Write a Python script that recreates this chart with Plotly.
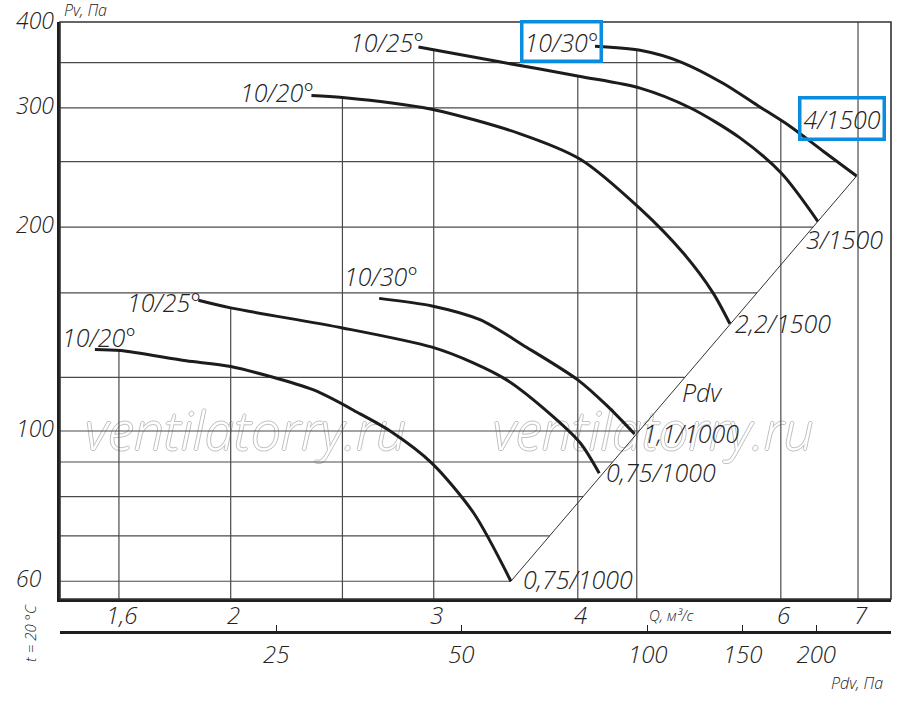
import numpy as np
import plotly.graph_objects as go

# ---- fan curves, Q in m3/s, Pv in Pa ----
# upper group (1500 rpm)
q_20_hi = [2.35, 2.50, 2.98, 3.56, 4.02, 4.53, 4.94, 5.24, 5.42]
p_20_hi = [313, 311, 299, 275, 252, 213, 183, 160, 144]
q_25_hi = [2.91, 3.42, 4.02, 4.53, 5.01, 5.53, 6.01, 6.46]
p_25_hi = [369, 351, 334, 321, 300, 271, 240, 204]
q_30_hi = [4.14, 4.53, 4.91, 5.35, 5.72, 6.11, 6.53, 6.98]
p_30_hi = [370, 365, 351, 326, 303, 282, 259, 238]
# lower group (1000 rpm)
q_20_lo = [1.525, 1.605, 1.83, 2.00, 2.36, 2.59, 2.75, 2.99, 3.25, 3.50]
p_20_lo = [132, 131.5, 127, 124.5, 115, 106, 100, 89.6, 75.6, 60]
q_25_lo = [1.875, 2.00, 2.50, 2.99, 3.25, 3.47, 3.76, 4.02, 4.175]
p_25_lo = [156, 152, 142, 133, 126, 119, 107, 96, 86.6]
q_30_lo = [2.69, 2.99, 3.29, 3.61, 4.00, 4.24, 4.48]
p_30_lo = [157, 153, 146, 133, 119, 109, 99]

angle_labels = ["10/20°", "10/25°", "10/30°", "10/20°", "10/25°", "10/30°"]
motor_labels = ["2,2/1500", "3/1500", "4/1500", "0,75/1000", "0,75/1000", "1,1/1000"]

# axes
q_grid = [1.6, 2, 2.5, 3, 4, 4.5, 6, 7]
p_grid = [60, 70, 80, 90, 100, 120, 160, 200, 250, 300, 350]
q_ticks = [1.6, 2, 3, 4, 6, 7]
q_ticktext = ["1,6", "2", "3", "4", "6", "7"]
p_ticks = [60, 100, 200, 300, 400]
pdv_ticks = [25, 50, 100, 150, 200]
pdv_tick_q = [2.19, 3.17, 4.60, 5.56, 6.44]   # Q where each Pdv tick sits

curves = [(q_20_hi, p_20_hi), (q_25_hi, p_25_hi), (q_30_hi, p_30_hi),
          (q_20_lo, p_20_lo), (q_25_lo, p_25_lo), (q_30_lo, p_30_lo)]

XR = [0.153, 0.8737]
YR = [1.7519, 2.6041]
qmin, qmax = 10 ** XR[0], 10 ** XR[1]
pmin, pmax = 10 ** YR[0], 10 ** YR[1]

# Pdv line joins the curve ends
ends = sorted((c[0][-1], c[1][-1]) for c in curves)
pdv_q = [ends[0][0], ends[-1][0]]
pdv_p = [ends[0][1], ends[-1][1]]
all_lines = curves + [(pdv_q, pdv_p)]

# grid lines stop at the curves
gx, gy = [], []
for q in q_grid:
    tops = []
    for qs, ps in all_lines:
        if qs[0] <= q <= qs[-1]:
            tops.append(10 ** np.interp(np.log10(q), np.log10(qs), np.log10(ps)))
    gx += [q, q, None]
    gy += [pmin, max(tops) if tops else pmax, None]
for p in p_grid:
    rights = []
    for qs, ps in all_lines:
        lo, hi = min(ps), max(ps)
        if lo <= p <= hi:
            if ps[0] > ps[-1]:
                xs, ys = np.log10(qs[::-1]), np.log10(ps[::-1])
            else:
                xs, ys = np.log10(qs), np.log10(ps)
            rights.append(10 ** np.interp(np.log10(p), ys, xs))
    gx += [qmin, max(rights) if rights else qmax, None]
    gy += [p, p, None]

FONT = "Open Sans"
TXT = "#222222"

fig = go.Figure()

# watermark
fig.add_trace(go.Scatter(
    x=[2.06, 4.65], y=[98, 98], mode="text",
    text=["ventilatorry.ru", "ventilatorry.ru"],
    textfont=dict(family=FONT, size=53, style="italic", weight=300, color="white",
                  shadow="1px 0 #c0c0c0, -1px 0 #c0c0c0, 0 1px #c0c0c0, 0 -1px #c0c0c0"),
    hoverinfo="skip", showlegend=False))

fig.add_trace(go.Scatter(x=gx, y=gy, mode="lines",
                         line=dict(color="#4a4a4a", width=1.2),
                         hoverinfo="skip", showlegend=False))

fig.add_trace(go.Scatter(x=pdv_q, y=pdv_p, mode="lines",
                         line=dict(color="#333333", width=1),
                         hoverinfo="skip", showlegend=False))

for qs, ps in curves:
    fig.add_trace(go.Scatter(x=qs, y=ps, mode="lines",
                             line=dict(color="#1c1c1c", width=3, shape="spline", smoothing=0.8),
                             showlegend=False))

# dummy trace so the Pdv axis is drawn
fig.add_trace(go.Scatter(x=pdv_tick_q, y=pdv_ticks, xaxis="x2", mode="markers",
                         marker=dict(opacity=0), hoverinfo="skip", showlegend=False))

lab_font = dict(family=FONT, size=25, style="italic", weight=300, color=TXT)
tick_font = dict(lab_font, size=24)
BLUE = "#0b8ddf"

# angle labels at curve starts: (xshift, yshift, boxed)
start_off = [(4, 4, False), (7, 5, False), (8, 5, True),
             (42, 12, False), (4, -2, False), (40, 22, False)]
for (qs, ps), txt, (dx, dy, box) in zip(curves, angle_labels, start_off):
    fig.add_annotation(x=np.log10(qs[0]), y=np.log10(ps[0]), text=txt, showarrow=False,
                       xanchor="right", yanchor="middle", xshift=dx, yshift=dy,
                       font=lab_font, borderpad=1,
                       bordercolor=BLUE if box else "rgba(0,0,0,0)", borderwidth=3.5 if box else 0)

# motor labels at curve ends
end_off = [(4, 1, False), (-13, -18, False), (-59, 58, True),
           (11, 2, False), (6, 1, False), (7, 1, False)]
for (qs, ps), txt, (dx, dy, box) in zip(curves, motor_labels, end_off):
    fig.add_annotation(x=np.log10(qs[-1]), y=np.log10(ps[-1]), text=txt, showarrow=False,
                       xanchor="left", yanchor="middle", xshift=dx, yshift=dy,
                       font=lab_font, borderpad=2 if box else 1,
                       bordercolor=BLUE if box else "rgba(0,0,0,0)", borderwidth=3.5 if box else 0)

fig.add_annotation(x=np.log10(q_30_lo[-1]), y=np.log10(p_30_lo[-1]), text="Pdv", showarrow=False,
                   xanchor="left", yanchor="middle", xshift=45, yshift=42, font=lab_font)

# y tick labels (left aligned like the drawing)
for p in p_ticks:
    fig.add_annotation(xref="paper", x=-0.0554, y=np.log10(p), text=str(p), showarrow=False,
                       xanchor="left", yanchor="middle", yshift=3, font=dict(lab_font, size=23))

# Q tick labels just under the frame
for q, t in zip(q_ticks, q_ticktext):
    fig.add_annotation(x=np.log10(q), yref="paper", y=0.0573, text=t, showarrow=False,
                       xanchor="center", yanchor="middle", xshift=3, font=tick_font)

small = dict(family=FONT, size=16, style="italic", weight=300, color=TXT)
fig.add_annotation(xref="paper", yref="paper", x=0.0024, y=1.019, text="Pv, Па",
                   showarrow=False, xanchor="left", yanchor="middle", font=small)
fig.add_annotation(xref="paper", yref="paper", x=0.7064, y=0.0557, text="Q, м³/с",
                   showarrow=False, xanchor="left", yanchor="middle",
                   font=dict(small, size=15))
fig.add_annotation(xref="paper", yref="paper", x=0.9928, y=-0.0525, text="Pdv, Па",
                   showarrow=False, xanchor="right", yanchor="middle", font=small)
fig.add_annotation(xref="paper", yref="paper", x=-0.0361, y=0.0271, text="t = 20 °C",
                   showarrow=False, textangle=-90, xanchor="center", yanchor="middle",
                   font=dict(small, size=15))

# thin frame on top / right
fig.add_shape(type="rect", xref="x domain", yref="y domain", x0=0, x1=1, y0=0, y1=1,
              line=dict(color="#333333", width=1.6))

fig.update_layout(
    width=900, height=712,
    margin=dict(l=60, r=9, t=22, b=62, autoexpand=False),
    paper_bgcolor="white", plot_bgcolor="white",
    showlegend=False,
    xaxis=dict(type="log", range=XR, showgrid=False, zeroline=False, automargin=False,
               showline=True, linewidth=3, linecolor="#1e1e1e",
               tickvals=q_ticks, showticklabels=False, ticks="", anchor="y"),
    yaxis=dict(type="log", range=YR, domain=[0.0812, 1], showgrid=False, zeroline=False,
               automargin=False, showline=True, linewidth=3, linecolor="#1e1e1e",
               showticklabels=False, ticks=""),
    xaxis2=dict(type="log", range=XR, overlaying="x", anchor="free", position=0.0287,
                side="bottom", showgrid=False, zeroline=False, automargin=False,
                showline=True, linewidth=3, linecolor="#1e1e1e",
                tickvals=pdv_tick_q, ticktext=[str(v) for v in pdv_ticks],
                ticks="inside", ticklen=6, tickwidth=1, tickcolor="#1e1e1e",
                tickfont=tick_font),
)

# drop the browser's default 8px body margin so the figure sits at the page corner
fig.write_html("out.html", config={"displayModeBar": False},
               post_script="document.body.style.margin='0';")
